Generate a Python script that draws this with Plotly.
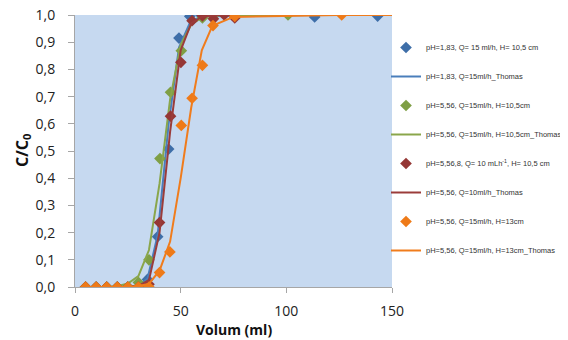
import plotly.graph_objects as go

# Experimental data
x_blue = [5, 10, 15, 20, 25, 30, 34.3, 39.1, 44.3, 49.2, 54.3, 59.5, 113.4, 143.2]
y_blue = [0, 0, 0, 0, 0, 0, 0.028, 0.185, 0.507, 0.915, 0.995, 1.0, 0.993, 0.996]

x_green = [5, 10, 15, 20, 25, 30, 35, 40.2, 45.2, 50.3, 60.3, 65.5, 100.8]
y_green = [0, 0, 0, 0, 0, 0.017, 0.10, 0.472, 0.716, 0.869, 0.989, 0.999, 1.0]

x_red = [5, 10, 15, 20, 25, 30, 35, 40, 45.2, 50.1, 55.4, 60.3, 65.5, 70.6, 75.6]
y_red = [0, 0, 0, 0, 0, 0, 0.01, 0.237, 0.628, 0.826, 0.979, 0.997, 0.986, 1.0, 0.989]

x_orange = [5, 10, 15, 20, 25, 30, 35, 40, 44.9, 50.3, 55.4, 60.3, 65.3, 75.6, 126.2]
y_orange = [0, 0, 0, 0, 0, 0, 0, 0.053, 0.129, 0.594, 0.694, 0.815, 0.961, 0.995, 1.0]

# Thomas model curves
xt_blue = [5, 10, 15, 20, 25, 30, 34.3, 39.1, 44.3, 49.2, 54.3, 59.5, 113.4, 143.2]
yt_blue = [0, 0, 0, 0, 0.001, 0.005, 0.03, 0.19, 0.60, 0.88, 0.97, 0.995, 1.0, 1.0]

xt_green = [5, 10, 15, 20, 25, 30, 35, 40, 45, 50, 55, 60, 65, 70, 100]
yt_green = [0, 0, 0, 0.003, 0.013, 0.04, 0.136, 0.38, 0.69, 0.89, 0.965, 0.99, 0.997, 1.0, 1.0]

xt_red = [5, 10, 15, 20, 25, 30, 35, 40, 45, 50, 55, 60, 65, 70, 75]
yt_red = [0, 0, 0, 0, 0.001, 0.004, 0.025, 0.2, 0.57, 0.87, 0.97, 0.993, 0.998, 1.0, 1.0]

xt_orange = [5, 10, 15, 20, 25, 30, 35, 40, 45, 50, 55, 60, 65, 75, 125, 150]
yt_orange = [0, 0, 0, 0, 0, 0.003, 0.012, 0.06, 0.167, 0.40, 0.66, 0.87, 0.96, 0.993, 1.0, 1.0]

names = [
    "pH=1,83, Q= 15 ml/h, H= 10,5 cm",
    "pH=1,83, Q=15ml/h_Thomas",
    "pH=5,56, Q=15ml/h, H=10,5cm",
    "pH=5,56, Q=15ml/h, H=10,5cm_Thomas",
    "pH=5,56,8, Q= 10 mLh<sup>-1</sup>, H= 10,5 cm",
    "pH=5,56, Q=10ml/h_Thomas",
    "pH=5,56, Q=15ml/h, H=13cm",
    "pH=5,56, Q=15ml/h, H=13cm_Thomas",
]

c_blue = "#4a7ebb"
c_green = "#8aa64b"
c_red = "#9b3c3a"
c_orange = "#f07c1c"

fig = go.Figure()

series = [
    (x_blue, y_blue, xt_blue, yt_blue, c_blue, "#3e6ea8"),
    (x_green, y_green, xt_green, yt_green, c_green, "#7f9f45"),
    (x_red, y_red, xt_red, yt_red, c_red, "#953735"),
    (x_orange, y_orange, xt_orange, yt_orange, c_orange, "#ee7a18"),
]

for i, (xm, ym, xl, yl, lc, mc) in enumerate(series):
    fig.add_trace(go.Scatter(
        x=xm, y=ym, mode="markers", name=names[2 * i],
        marker=dict(symbol="diamond", size=9, color=mc),
        legendgroup=f"g{2*i}",
    ))
    fig.add_trace(go.Scatter(
        x=xl, y=yl, mode="lines", name=names[2 * i + 1],
        line=dict(color=lc, width=2),
        legendgroup=f"g{2*i+1}",
    ))

FONT = "Open Sans, Liberation Sans, sans-serif"
axis_font = dict(family=FONT, size=14, color="#222222")

W, H = 560, 332  # page body has an 8px margin
L, R, T, B = 67, 176, 7, 53
PW, PH = W - L - R, H - T - B

fig.update_layout(
    width=W, height=H,
    margin=dict(l=L, r=R, t=T, b=B, autoexpand=False),
    paper_bgcolor="white",
    plot_bgcolor="#c6d9f0",
    separators=", ",
    showlegend=True,
    legend=dict(
        x=378 / W, xref="container", xanchor="left",
        y=1 - 25 / H, yref="container", yanchor="top",
        font=dict(family="Liberation Sans, Arial, sans-serif", size=7.5, color="#333333"),
        tracegroupgap=10,
        traceorder="grouped",
        bgcolor="rgba(0,0,0,0)",
        itemwidth=30,
        maxheight=300,
    ),
    xaxis=dict(
        range=[0, 150], dtick=50, tick0=0,
        showgrid=False, zeroline=False,
        showline=True, linecolor="#a6a6a6", linewidth=1,
        ticks="outside", tickcolor="#a6a6a6", ticklen=5,
        tickfont=axis_font, ticklabelstandoff=6, ticklabeloverflow="allow",
    ),
    yaxis=dict(
        range=[0, 1], dtick=0.1, tick0=0, tickformat=".1f",
        showgrid=False, zeroline=False,
        showline=True, linecolor="#a6a6a6", linewidth=1,
        ticks="outside", tickcolor="#a6a6a6", ticklen=6,
        tickfont=axis_font, ticklabelstandoff=10, ticklabeloverflow="allow",
    ),
    annotations=[
        dict(text="<b>C/C<sub>0</sub></b>", xref="paper", yref="paper",
             x=(14 - L) / PW, y=0.5, xanchor="center", yanchor="middle",
             textangle=-90, showarrow=False,
             font=dict(family=FONT, size=16, color="#111111")),
        dict(text="<b>Volum (ml)</b>", xref="paper", yref="paper",
             x=0.5, y=-(321 - (H - B)) / PH, xanchor="center", yanchor="middle",
             showarrow=False,
             font=dict(family=FONT, size=14, color="#111111")),
    ],
)

fig.write_html("out.html")
